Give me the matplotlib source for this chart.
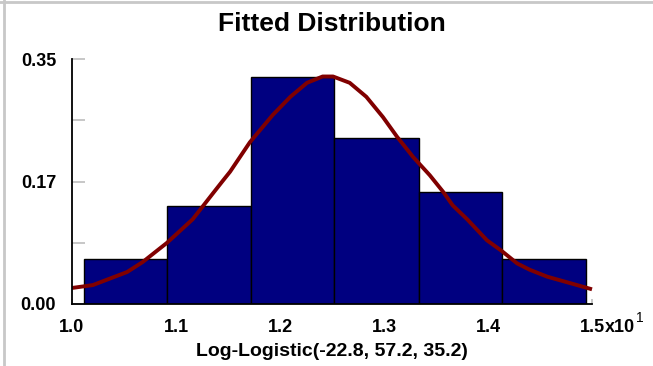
import matplotlib
matplotlib.use("Agg")
import matplotlib.pyplot as plt
from matplotlib.lines import Line2D
from matplotlib.ticker import FixedLocator

plt.rcParams['font.family'] = ['Liberation Sans', 'DejaVu Sans']

# ---- data ----
bin_edges = [10.115, 10.913, 11.72, 12.52, 13.337, 14.135, 14.94]
bar_heights = [0.0643, 0.140, 0.324, 0.237, 0.160, 0.0643]

curve_x = [10.0, 10.2, 10.53, 10.68, 10.85, 10.91, 11.16, 11.26, 11.36, 11.45,
           11.52, 11.615, 11.71, 11.93, 12.10, 12.26, 12.41, 12.51, 12.67, 12.83,
           12.99, 13.125, 13.28, 13.44, 13.57, 13.66, 13.80, 13.99, 14.13, 14.28,
           14.40, 14.57, 14.69, 15.0]
curve_y = [0.0229, 0.027, 0.0457, 0.060, 0.080, 0.087, 0.121, 0.140, 0.159, 0.176,
           0.189, 0.210, 0.231, 0.270, 0.296, 0.316, 0.325, 0.325, 0.316, 0.296,
           0.267, 0.239, 0.210, 0.184, 0.160, 0.141, 0.121, 0.091, 0.076, 0.058,
           0.049, 0.039, 0.034, 0.021]

y_major = [0.0, 0.175, 0.35]
y_major_labels = ["0.00", "0.17", "0.35"]
y_minor = [0.0875, 0.2625]
x_ticks = [10, 11, 12, 13, 14, 15]
x_tick_labels = ["1.0", "1.1", "1.2", "1.3", "1.4", "1.5"]
x_exponent = "x10"
x_exponent_power = "1"

title = "Fitted Distribution"
xlabel = "Log-Logistic(-22.8, 57.2, 35.2)"

fig = plt.figure(figsize=(6.53, 3.66), dpi=100)
fig.patch.set_facecolor("white")
ax = fig.add_axes([72/653, 1-304/366, (592-72)/653, (304-59)/366])

lefts = bin_edges[:-1]
widths = [b - a for a, b in zip(bin_edges[:-1], bin_edges[1:])]
ax.bar(lefts, bar_heights, width=widths, align="edge", color="#000080",
       edgecolor="black", linewidth=1.0, zorder=2)
ax.plot(curve_x, curve_y, color="#800000", linewidth=2.8, zorder=3,
        solid_joinstyle="round", solid_capstyle="butt", clip_on=False)

ax.set_xlim(10, 15)
ax.set_ylim(0, 0.35)

for s in ["top", "right"]:
    ax.spines[s].set_visible(False)
for s in ["left", "bottom"]:
    ax.spines[s].set_linewidth(1.3)
    ax.spines[s].set_color("black")
    ax.spines[s].set_zorder(4)

ax.yaxis.set_major_locator(FixedLocator(y_major))
ax.set_yticklabels(y_major_labels)
ax.yaxis.set_minor_locator(FixedLocator(y_minor))
ax.tick_params(axis="y", which="both", direction="in", length=9, width=1.1,
               color="#b8b8b8", pad=11.5)
ax.tick_params(axis="y", which="major", labelsize=13)
for lab in ax.get_yticklabels():
    lab.set_fontweight("bold")

ax.set_xticks(x_ticks)
ax.set_xticklabels(x_tick_labels)
ax.tick_params(axis="x", direction="in", length=3.5, width=1.1, color="#b8b8b8",
               labelsize=13, pad=10.5)
for lab in ax.get_xticklabels():
    lab.set_fontweight("bold")

ax.set_title(title, fontsize=19, fontweight="bold", pad=20)
ax.set_xlabel(xlabel, fontsize=14, fontweight="bold", labelpad=5)

# exponent after last x label
fig.canvas.draw()
r = fig.canvas.get_renderer()
last = ax.get_xticklabels()[-1]
bb = last.get_window_extent(renderer=r)
inv = fig.transFigure.inverted()
x0, y0 = inv.transform((bb.x1, bb.y0))
t = fig.text(x0, y0, x_exponent, fontsize=13, fontweight="bold", ha="left",
             va="bottom")
fig.canvas.draw()
bb2 = t.get_window_extent(renderer=r)
xs, ys = inv.transform((bb2.x1, bb2.y1))
fig.text(xs + 1/653, ys + 1/366, x_exponent_power, fontsize=10, ha="left",
         va="center")

# light gray frame on the left and top edges
fig.add_artist(Line2D([4/653, 4/653], [0, 1], transform=fig.transFigure,
                      color="#c8c8c8", linewidth=2))
fig.add_artist(Line2D([0, 1], [1-1.5/366, 1-1.5/366], transform=fig.transFigure,
                      color="#c8c8c8", linewidth=2))

fig.savefig("out.png", dpi=100, facecolor="white")
